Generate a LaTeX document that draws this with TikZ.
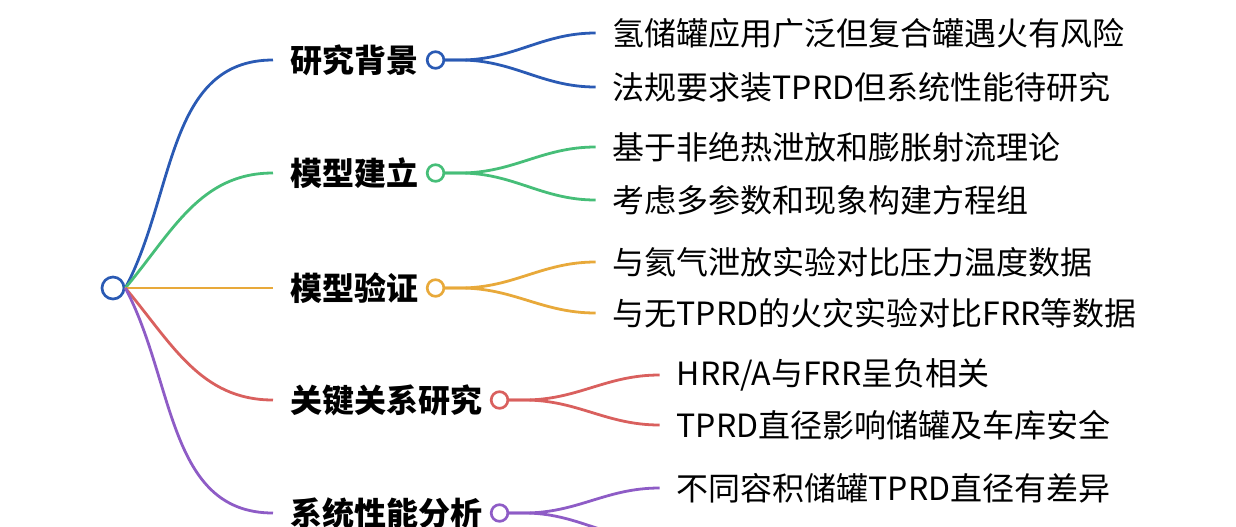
\documentclass[tikz,border=0pt]{standalone}
\usepackage{fontspec}
\setmainfont{Noto Sans CJK SC}
\usetikzlibrary{calc}

\definecolor{cblue}{HTML}{2A5AB4}
\definecolor{cgreen}{HTML}{46BE78}
\definecolor{corange}{HTML}{E8A93A}
\definecolor{cred}{HTML}{D9605E}
\definecolor{cpurple}{HTML}{8E5CC6}

\tikzset{
	hub/.style={draw=#1,circle,fill=white,line width=2pt,inner sep=0pt,minimum size=12.5pt},
	topic/.style={anchor=west,inner xsep=12.75pt,inner ysep=0pt,text=black,font=\fontsize{24}{24}\selectfont\bfseries},
	leaf/.style={anchor=west,inner xsep=12.75pt,inner ysep=0pt,text=black,font=\fontsize{24}{24}\selectfont},
	link/.style={line width=2.1pt},
}

\begin{document}
\begin{tikzpicture}[x=0.75pt,y=-0.75pt]
	\useasboundingbox (0,0) rectangle (1236,526);
	\node[hub=cblue,minimum size=16.5pt] (root) at (113,288) {};
	% topics
	\node[topic] (b1) at (273,60) {研究背景};
	\node[topic] (b2) at (273,173) {模型建立};
	\node[topic] (b3) at (273,288) {模型验证};
	\node[topic] (b4) at (273,400) {关键关系研究};
	\node[topic] (b5) at (273,513) {系统性能分析};
	\node[hub=cblue] (c1) at (b1.east) {};
	\node[hub=cgreen] (c2) at (b2.east) {};
	\node[hub=corange] (c3) at (b3.east) {};
	\node[hub=cred] (c4) at (b4.east) {};
	\node[hub=cpurple] (c5) at (b5.east) {};
	% leaves
	\node[leaf] (t11) at ($(c1)+(160,-27)$) {氢储罐应用广泛但复合罐遇火有风险};
	\node[leaf] (t12) at ($(c1)+(160,27)$) {法规要求装TPRD但系统性能待研究};
	\node[leaf] (t21) at ($(c2)+(160,-26)$) {基于非绝热泄放和膨胀射流理论};
	\node[leaf] (t22) at ($(c2)+(160,27)$) {考虑多参数和现象构建方程组};
	\node[leaf] (t31) at ($(c3)+(160,-26)$) {与氦气泄放实验对比压力温度数据};
	\node[leaf] (t32) at ($(c3)+(160,25)$) {与无TPRD的火灾实验对比FRR等数据};
	\node[leaf] (t41) at ($(c4)+(160,-25)$) {HRR/A与FRR呈负相关};
	\node[leaf] (t42) at ($(c4)+(160,25)$) {TPRD直径影响储罐及车库安全};
	\node[leaf] (t51) at ($(c5)+(160,-25)$) {不同容积储罐TPRD直径有差异};
	\coordinate (t52) at ($(c5)+(160,27)$);
	% root to topics
	\draw[link,cblue] (root.east) to[out=62,in=180] (b1.west);
	\draw[link,cgreen] (root.east) to[out=50,in=180] (b2.west);
	\draw[link,corange] (root.east) -- (b3.west);
	\draw[link,cred] (root.east) to[out=-50,in=180] (b4.west);
	\draw[link,cpurple] (root.east) to[out=-62,in=180] (b5.west);
	% topics to leaves
	\draw[link,cblue] (c1.east) -- ++(15,0) to[out=0,in=180] (t11.west);
	\draw[link,cblue] (c1.east) -- ++(15,0) to[out=0,in=180] (t12.west);
	\draw[link,cgreen] (c2.east) -- ++(15,0) to[out=0,in=180] (t21.west);
	\draw[link,cgreen] (c2.east) -- ++(15,0) to[out=0,in=180] (t22.west);
	\draw[link,corange] (c3.east) -- ++(15,0) to[out=0,in=180] (t31.west);
	\draw[link,corange] (c3.east) -- ++(15,0) to[out=0,in=180] (t32.west);
	\draw[link,cred] (c4.east) -- ++(15,0) to[out=0,in=180] (t41.west);
	\draw[link,cred] (c4.east) -- ++(15,0) to[out=0,in=180] (t42.west);
	\draw[link,cpurple] (c5.east) -- ++(15,0) to[out=0,in=180] (t51.west);
	\draw[link,cpurple] (c5.east) -- ++(15,0) to[out=0,in=180] (t52);
\end{tikzpicture}
\end{document}
